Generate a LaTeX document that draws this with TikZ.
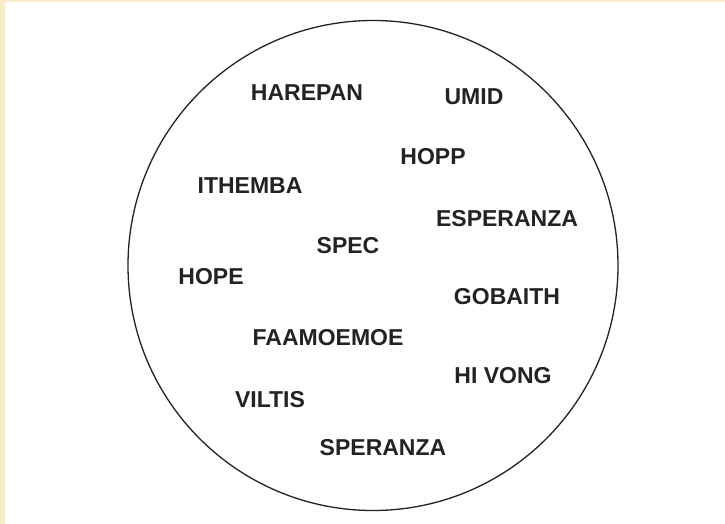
\documentclass[tikz,border=0pt]{standalone}
\usepackage{fontspec}
\setmainfont{Liberation Sans}
\definecolor{cream}{RGB}{250,236,200}
\definecolor{ink}{RGB}{35,35,35}

\begin{document}
\begin{tikzpicture}[x=1pt,y=-1pt,
  word/.style={text=ink,font=\bfseries\fontsize{23}{27}\selectfont,inner sep=0pt}]
\fill[cream] (0,0) rectangle (725,524);
\fill[white] (5,2) rectangle (725,524);
\useasboundingbox (0,0) rectangle (725,524);
\draw[ink,line width=1.3pt] (373,265.5) circle [radius=245pt];
\node[word] (W1) at (307,93) {HAREPAN};
\node[word] (W2) at (474,97) {UMID};
\node[word] (W3) at (433,157) {HOPP};
\node[word] (W4) at (250,186) {ITHEMBA};
\node[word] (W5) at (507,219) {ESPERANZA};
\node[word] (W6) at (348,246) {SPEC};
\node[word] (W7) at (211,277) {HOPE};
\node[word] (W8) at (507,297) {GOBAITH};
\node[word] (W9) at (328,338) {FAAMOEMOE};
\node[word] (W10) at (503,376) {HI VONG};
\node[word] (W11) at (270,400) {VILTIS};
\node[word] (W12) at (383,448) {SPERANZA};
\end{tikzpicture}
\end{document}
